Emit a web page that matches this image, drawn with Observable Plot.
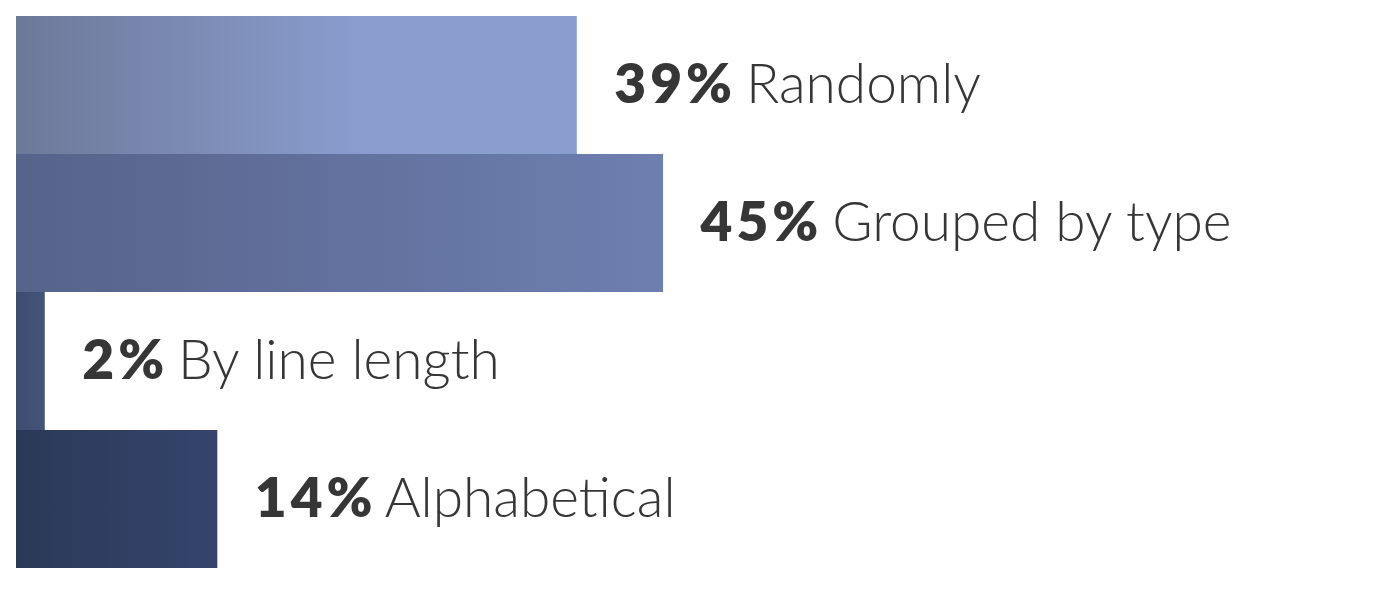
<!DOCTYPE html>
<html>
<head>
<meta charset="utf-8">
<script src="https://cdn.jsdelivr.net/npm/d3@7"></script>
<script src="https://cdn.jsdelivr.net/npm/@observablehq/plot@0.6"></script>
<style>
  html, body { margin: 0; padding: 0; background: #fff; }
  #chart svg { display: block; }
</style>
</head>
<body>
<div id="chart"></div>
<script>
// Data
const categories = ["Randomly", "Grouped by type", "By line length", "Alphabetical"];
const percents = [39, 45, 2, 14];

// Styles (gradient stops per bar: left color, right color, stop offset)
const gradStops = [
  ["#6d7999", "#8a9dcf", 0.62],
  ["#56638a", "#6e7fb0", 1.0],
  ["#3e4c6d", "#44557a", 1.0],
  ["#2b3958", "#34446b", 1.0]
];

const data = categories.map((c, i) => ({category: c, value: percents[i], grad: `url(#grad-${i})`}));

const defs = () => {
  const d = d3.create("svg:defs");
  gradStops.forEach(([a, b, off], i) => {
    const g = d.append("linearGradient").attr("id", `grad-${i}`).attr("x1", 0).attr("x2", 1).attr("y1", 0).attr("y2", 0);
    g.append("stop").attr("offset", 0).attr("stop-color", a);
    g.append("stop").attr("offset", off).attr("stop-color", b);
    g.append("stop").attr("offset", 1).attr("stop-color", b);
  });
  return d.node();
};

const chart = Plot.plot({
  width: 1400,
  height: 610,
  marginLeft: 16,
  marginRight: 0,
  marginTop: 15,
  marginBottom: 41,
  x: {domain: [0, 96.25], axis: null},
  y: {domain: categories, axis: null, padding: 0},
  color: {type: "identity"},
  marks: [
    defs,
    Plot.barX(data, {x: "value", y: "category", fill: "grad", insetTop: 0, insetBottom: 0}),
    Plot.text(data, {
      x: "value",
      y: "category",
      text: d => `${d.value}%|${d.category}`,
      dx: 37,
      textAnchor: "start",
      fill: "#363636",
      fontSize: 55,
      fontFamily: "Lato",
      render(index, scales, values, dims, context, next) {
        const g = next(index, scales, values, dims, context);
        d3.select(g).selectAll("text").each(function() {
          const t = d3.select(this);
          const [pct, label] = t.text().split("|");
          t.text(null);
          t.append("tspan").attr("font-weight", 800).attr("letter-spacing", "4px").text(pct);
          t.append("tspan").attr("font-weight", 300).attr("dx", -5).text(" " + label);
        });
        return g;
      }
    })
  ]
});

document.getElementById("chart").append(chart);
</script>
</body>
</html>
